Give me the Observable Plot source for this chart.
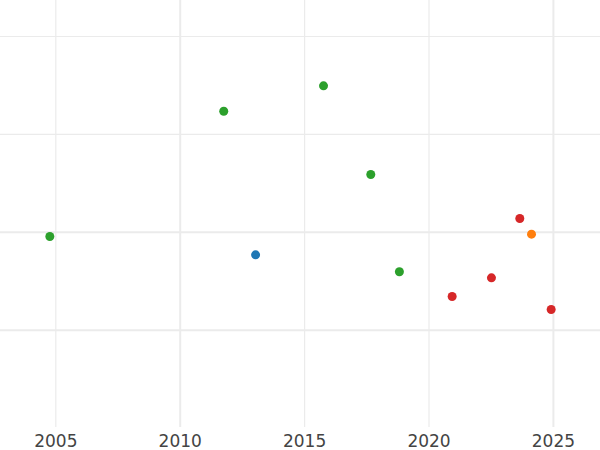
<!DOCTYPE html>
<html>
<head>
<meta charset="utf-8">
<script src="https://cdn.jsdelivr.net/npm/d3@7"></script>
<script src="https://cdn.jsdelivr.net/npm/@observablehq/plot@0.6"></script>
<style>
  html, body { margin: 0; padding: 0; background: #fff; }
  #chart svg { display: block; }
</style>
</head>
<body>
<div id="chart"></div>
<script>
// Data
const years  = [2004.76, 2011.75, 2015.76, 2017.66, 2018.81, 2013.03, 2020.93, 2022.51, 2023.65, 2024.91, 2024.12];
const values = [1.957,   3.237,   3.496,   2.590,   1.597,   1.770,   1.344,   1.535,   2.141,   1.211,   1.981];
const groups = ["C",     "C",     "C",     "C",     "C",     "A",     "D",     "D",     "D",     "D",     "B"];

const groupNames  = ["A", "B", "C", "D"];
const groupColors = ["#1f77b4", "#ff7f0e", "#2ca02c", "#d62728"];

const xTicks = [2005, 2010, 2015, 2020, 2025];
const yTicks = [1, 2, 3, 4];
// grid lines that render slightly heavier in the reference
const xHeavy = [2010, 2025];
const yHeavy = [1, 2];

const data = years.map((x, i) => ({x, y: values[i], g: groups[i]}));

const chart = Plot.plot({
  width: 600,
  height: 450,
  marginTop: 0,
  marginRight: 0,
  marginLeft: 0,
  marginBottom: 23,
  style: {fontFamily: "DejaVu Sans", fontSize: "17px", color: "#444", background: "#fff"},
  x: {domain: [2002.777, 2026.893], ticks: xTicks, tickFormat: d => String(d), label: null},
  y: {domain: [0.006, 4.368], axis: null},
  color: {domain: groupNames, range: groupColors},
  marks: [
    Plot.gridX(xTicks.filter(d => !xHeavy.includes(d)), {stroke: "#ebebeb", strokeOpacity: 1, strokeWidth: 1.2}),
    Plot.gridX(xHeavy, {stroke: "#ebebeb", strokeOpacity: 1, strokeWidth: 2}),
    Plot.gridY(yTicks.filter(d => !yHeavy.includes(d)), {stroke: "#ebebeb", strokeOpacity: 1, strokeWidth: 1.2}),
    Plot.gridY(yHeavy, {stroke: "#ebebeb", strokeOpacity: 1, strokeWidth: 2}),
    Plot.axisX({ticks: xTicks, tickSize: 0, tickPadding: 7, tickFormat: d => String(d), label: null, fill: "#444"}),
    Plot.dot(data, {x: "x", y: "y", fill: "g", r: 4.5, stroke: null})
  ]
});
document.getElementById("chart").appendChild(chart);
</script>
</body>
</html>
